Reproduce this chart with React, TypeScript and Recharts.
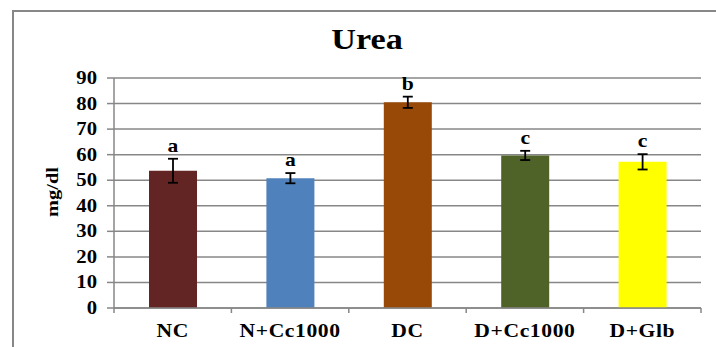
import React from "react";
import {
  BarChart,
  Bar,
  XAxis,
  YAxis,
  CartesianGrid,
  Cell,
  ErrorBar,
  LabelList,
} from "recharts";

const categories = ["NC", "N+Cc1000", "DC", "D+Cc1000", "D+Glb"];
const means = [53.7, 50.8, 80.5, 59.7, 57.2];
const errors = [4.7, 2.0, 2.2, 1.8, 3.0];
const letters = ["a", "a", "b", "c", "c"];
const barColors = ["#632523", "#4f81bd", "#984807", "#4f6228", "#ffff00"];
const yTicks = [0, 10, 20, 30, 40, 50, 60, 70, 80, 90];

const data = categories.map((name, i) => ({
  name,
  value: means[i],
  err: errors[i],
  letter: letters[i],
}));

const FONT = '"Liberation Serif", "Times New Roman", serif';
const GRID = "#878787";
const STRETCH = 1.2;

function YTick({ x, y, payload }: any) {
  return (
    <text
      transform={`translate(${x - 8},${y}) scale(1.15,1)`}
      textAnchor="end"
      dominantBaseline="central"
      fontFamily={FONT}
      fontWeight="bold"
      fontSize={18}
      fill="#000"
    >
      {payload.value}
    </text>
  );
}

// label plus the short tick marks at the category edges
function XTick({ x, y, payload, width, visibleTicksCount, index }: any) {
  const band = width / visibleTicksCount;
  const left = x - band / 2;
  return (
    <g>
      <line x1={left} x2={left} y1={y} y2={y + 5} stroke={GRID} strokeWidth={1.5} />
      {index === visibleTicksCount - 1 && (
        <line x1={x + band / 2} x2={x + band / 2} y1={y} y2={y + 5} stroke={GRID} strokeWidth={1.5} />
      )}
      <text
        transform={`translate(${x},${y + 29}) scale(${STRETCH},1)`}
        textAnchor="middle"
        fontFamily={FONT}
        fontWeight="bold"
        fontSize={18}
        letterSpacing={0.5}
        fill="#000"
      >
        {payload.value}
      </text>
    </g>
  );
}

function LetterLabel({ x, y, width, height, value, index }: any) {
  const d = data[index];
  const errPx = (d.err * height) / d.value;
  const cx = x + width / 2;
  const top = y - errPx - 7;
  return (
    <text
      transform={`translate(${cx},${top}) scale(${STRETCH},1)`}
      textAnchor="middle"
      fontFamily={FONT}
      fontWeight="bold"
      fontSize={18}
      fill="#000"
    >
      {value}
    </text>
  );
}

function YLabel({ viewBox }: any) {
  const cx = 52;
  const cy = viewBox.y + viewBox.height / 2 - 1;
  return (
    <text
      transform={`translate(${cx},${cy}) rotate(-90) scale(${STRETCH},1)`}
      textAnchor="middle"
      dominantBaseline="central"
      fontFamily={FONT}
      fontWeight="bold"
      fontSize={17}
      fill="#000"
    >
      mg/dl
    </text>
  );
}

export default function App() {
  return (
    <div
      style={{
        position: "absolute",
        left: 0,
        top: 0,
        width: 716,
        height: 347,
        overflow: "hidden",
        background: "#fff",
      }}
    >
      <div
        style={{
          position: "absolute",
          left: 12,
          top: 10,
          width: 800,
          height: 400,
          border: `2px solid ${GRID}`,
        }}
      />
      <div
        style={{
          position: "absolute",
          left: 0,
          top: 22,
          width: 734,
          textAlign: "center",
          fontFamily: FONT,
          fontWeight: "bold",
          fontSize: 30,
          lineHeight: "34px",
          transform: "scaleX(1.14)",
          transformOrigin: "367px 0",
        }}
      >
        Urea
      </div>
      <div style={{ position: "absolute", left: 0, top: 0 }}>
        <BarChart
          width={716}
          height={347}
          data={data}
          margin={{ top: 78, right: 15, bottom: 0, left: 0 }}
        >
          <CartesianGrid vertical={false} stroke={GRID} strokeWidth={1.5} />
          <XAxis
            dataKey="name"
            height={39}
            tickLine={false}
            tickSize={0}
            tickMargin={0}
            stroke={GRID}
            strokeWidth={1.5}
            tick={<XTick />}
            interval={0}
          />
          <YAxis
            width={114}
            domain={[0, 90]}
            ticks={yTicks}
            interval={0}
            tickSize={7}
            stroke={GRID}
            strokeWidth={1.5}
            tick={<YTick />}
            label={<YLabel />}
          />
          <Bar dataKey="value" barSize={48} isAnimationActive={false}>
            {data.map((d, i) => (
              <Cell key={d.name} fill={barColors[i]} />
            ))}
            <ErrorBar
              dataKey="err"
              width={5}
              stroke="#000"
              strokeWidth={1.8}
              isAnimationActive={false}
            />
            <LabelList dataKey="letter" content={<LetterLabel />} />
          </Bar>
        </BarChart>
      </div>
    </div>
  );
}
